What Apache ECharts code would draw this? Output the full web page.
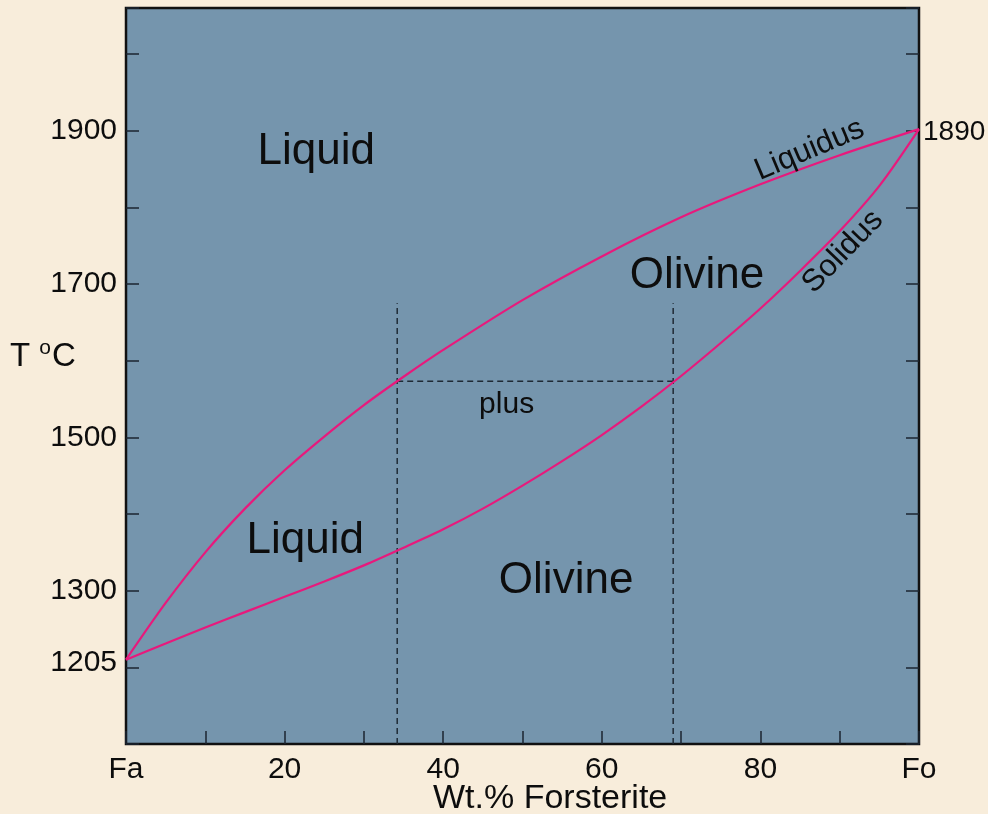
<!DOCTYPE html>
<html><head><meta charset="utf-8">
<script src="https://cdn.jsdelivr.net/npm/echarts@6/dist/echarts.min.js"></script>
<style>html,body{margin:0;padding:0;background:#f8eddb;}#c{width:988px;height:814px;}</style>
</head><body><div id="c"></div>
<script>
// Liquidus curve (wt.% Fo, T °C)
const liquidusX = [0, 5, 10, 15, 20, 25, 30, 35, 40, 50, 60, 70, 80, 90, 100];
const liquidusT = [1210, 1284, 1350, 1407, 1457, 1501, 1542, 1579, 1614, 1679, 1736, 1787, 1830, 1868, 1902];
// Solidus curve
const solidusX = [0, 5, 10, 15, 20, 25, 30, 35, 40, 45, 50, 55, 60, 65, 70, 75, 80, 85, 90, 95, 100];
const solidusT = [1210, 1231, 1252, 1272, 1292, 1312, 1333, 1356, 1380, 1407, 1437, 1469, 1503, 1540, 1580, 1623, 1668, 1717, 1769, 1828, 1902];
// Tie-line construction (dashed)
const tieLeftX = 34.2, tieRightX = 69, tieT = 1573, dashTopT = 1675, dashBottomT = 1100;
// Axis ticks / labels
const xTickLabels = {0: 'Fa', 20: '20', 40: '40', 60: '60', 80: '80', 100: 'Fo'};
const yTickLabels = [1300, 1500, 1700, 1900];
const xAxisTitle = 'Wt.% Forsterite';
const meltFa = 1205, meltFo = 1890;
// Region / curve annotations [x, T, text]
const regionLabels = [
  [24, 1873, 'Liquid'],
  [72, 1710, 'Olivine'],
  [22.6, 1365, 'Liquid'],
  [55.5, 1313, 'Olivine'],
  [48, 1542, 'plus']
];
const curveLabels = [
  [86.2, 1875, 'Liquidus', 23],
  [90.4, 1742, 'Solidus', 46]
];

const chart = echarts.init(document.getElementById('c'));
const pink = '#e8197c';
const dashCol = '#1f2a35';
const font = 'Liberation Sans, Arial, Helvetica, sans-serif';

function zip(a, b) { return a.map((v, i) => [v, b[i]]); }
const txt = {color: '#0d0d0d', fontFamily: font, opacity: 1};

chart.setOption({
  backgroundColor: '#f8eddb',
  animation: false,
  grid: {left: 126, right: 69, top: 8, bottom: 70, show: true, containLabel: false,
    outerBoundsMode: 'none',
    backgroundColor: '#7595ad', borderColor: '#111', borderWidth: 2.5},
  xAxis: {
    type: 'value', min: 0, max: 100, interval: 10,
    axisLine: {show: false},
    axisTick: {show: true, inside: true, length: 13, lineStyle: {color: '#1b2530', width: 1.5}},
    splitLine: {show: false},
    axisLabel: {color: '#0d0d0d', fontSize: 30, fontFamily: font, margin: 11,
      formatter: v => (xTickLabels[v] !== undefined ? xTickLabels[v] : '')}
  },
  yAxis: [{
    type: 'value', min: 1100, max: 2060, interval: 100,
    axisLine: {show: false},
    axisTick: {show: true, inside: true, length: 13, lineStyle: {color: '#1b2530', width: 1.5}},
    splitLine: {show: false},
    axisLabel: {color: '#0d0d0d', fontSize: 30, fontFamily: font, margin: 9,
      formatter: v => (yTickLabels.indexOf(v) >= 0 ? String(v) : '')}
  }, {
    type: 'value', min: 1100, max: 2060, interval: 100, position: 'right',
    axisLine: {show: false},
    axisTick: {show: true, inside: true, length: 13, lineStyle: {color: '#1b2530', width: 1.5}},
    splitLine: {show: false},
    axisLabel: {show: false}
  }],
  graphic: [{
    type: 'text', left: 10, top: 338,
    style: {text: 'T {s|o}C', fill: '#0d0d0d', font: '33px ' + font,
      rich: {s: {fontSize: 21, fontFamily: font, verticalAlign: 'top', padding: [0, 1, 16, 0]}}}
  }, {
    type: 'text', left: 433, top: 782,
    style: {text: xAxisTitle, fill: '#0d0d0d', font: '34px ' + font}
  }],
  series: [
    {type: 'line', data: zip(liquidusX, liquidusT), smooth: 0.3, symbol: 'none',
      lineStyle: {color: pink, width: 2.2}, z: 5},
    {type: 'line', data: zip(solidusX, solidusT), smooth: 0.3, symbol: 'none',
      lineStyle: {color: pink, width: 2.2}, z: 5},
    {type: 'line', data: [[tieLeftX, dashBottomT], [tieLeftX, dashTopT]], symbol: 'none',
      lineStyle: {color: dashCol, width: 1.5, type: [6, 4]}, z: 4},
    {type: 'line', data: [[tieRightX, dashBottomT], [tieRightX, dashTopT]], symbol: 'none',
      lineStyle: {color: dashCol, width: 1.5, type: [6, 4]}, z: 4},
    {type: 'line', data: [[tieLeftX, tieT], [tieRightX, tieT]], symbol: 'none',
      lineStyle: {color: dashCol, width: 1.5, type: [6, 4]}, z: 4},
    {type: 'scatter', symbolSize: 0, silent: true, z: 6, itemStyle: {opacity: 1},
      data: regionLabels.map(r => ({value: [r[0], r[1]], label: {show: true, formatter: r[2],
        fontSize: r[2] === 'plus' ? 30 : 44, position: 'inside'}})),
      label: txt},
    {type: 'scatter', symbolSize: 0, silent: true, z: 6, itemStyle: {opacity: 1},
      data: curveLabels.map(r => ({value: [r[0], r[1]], label: {show: true, formatter: r[2],
        rotate: r[3], fontSize: 31, position: 'inside'}})),
      label: txt},
    {type: 'scatter', symbolSize: 0, silent: true, z: 6, itemStyle: {opacity: 1},
      data: [
        {value: [0, meltFa], label: {show: true, formatter: String(meltFa), position: 'left', distance: 9, fontSize: 30, offset: [0, -1]}},
        {value: [100, 1902], label: {show: true, formatter: String(meltFo), position: 'right', distance: 4, fontSize: 28, offset: [0, 3]}}
      ],
      label: txt}
  ]
});
</script></body></html>
